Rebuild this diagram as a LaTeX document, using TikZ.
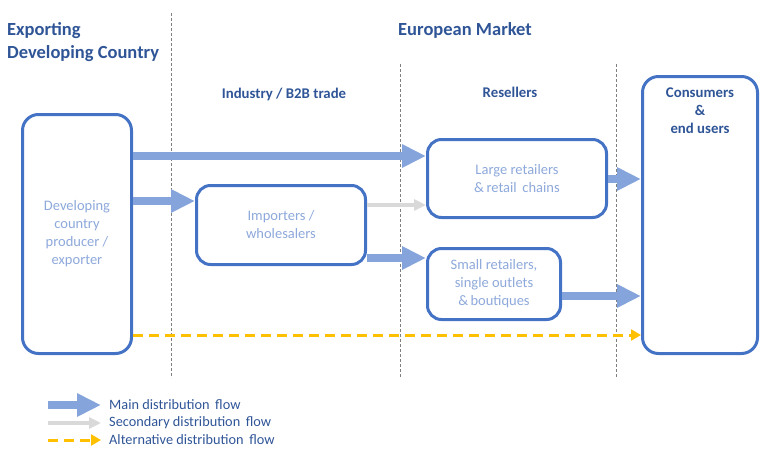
\documentclass[tikz,border=0pt]{standalone}
\usepackage{fontspec}
\setmainfont{Carlito}
\usetikzlibrary{arrows.meta}
\definecolor{boxblue}{HTML}{4472C4}
\definecolor{lighttext}{HTML}{8EA9DB}
\definecolor{darktext}{HTML}{2F5597}
\definecolor{mainflow}{HTML}{86A4DC}
\definecolor{secflow}{HTML}{D9D9D9}
\definecolor{altflow}{HTML}{FFC000}
\definecolor{sepgrey}{HTML}{7F7F7F}
\tikzset{
  box/.style={draw=boxblue, line width=3pt, rounded corners=14pt, fill=white,
    text=lighttext, align=center, font=\fontsize{14.5}{18}\selectfont},
  header/.style={text=darktext, font=\bfseries\fontsize{18.5}{23}\selectfont},
  subheader/.style={text=darktext, font=\bfseries\fontsize{14.8}{18}\selectfont, align=center},
  sep/.style={draw=sepgrey, line width=0.7pt, dash pattern=on 3pt off 2pt},
  mainarrow/.style={draw=mainflow, line width=8pt, -{Triangle[length=24pt,width=22pt]}},
  secarrow/.style={draw=secflow, line width=3.5pt, -{Triangle[length=12pt,width=11pt]}},
  altarrow/.style={draw=altflow, line width=3pt, dash pattern=on 10pt off 6pt, -{Triangle[length=10pt,width=11pt]}},
  legendtext/.style={text=darktext, anchor=west, font=\fontsize{14.3}{16}\selectfont}
}
\begin{document}
\begin{tikzpicture}[x=1pt,y=-1pt]
\useasboundingbox (0,0) rectangle (768,461);
% separators
\coordinate (s1t) at (171,13); \coordinate (s1b) at (171,378);
\coordinate (s2t) at (400,64); \coordinate (s2b) at (400,378);
\coordinate (s3t) at (616,64); \coordinate (s3b) at (616,378);
\draw[sep] (s1t) -- (s1b);
\draw[sep] (s2t) -- (s2b);
\draw[sep] (s3t) -- (s3b);
% headers
\node[header, anchor=west, align=left, inner xsep=0pt] (hexp) at (7,42) {Exporting\\Developing Country};
\node[header] (heu) at (465,30) {European Market};
\node[subheader] (hind) at (284,94) {Industry / B2B trade};
\node[subheader] (hres) at (510,92) {Resellers};
% boxes
\node[box, minimum width=109pt, minimum height=239pt, rounded corners=16pt] (prod) at (77,234) {Developing\\country\\producer /\\exporter};
\node[box, minimum width=169pt, minimum height=79pt] (imp) at (281,225) {Importers /\\wholesalers};
\node[box, minimum width=179pt, minimum height=78pt] (large) at (517,178.5) {Large retailers\\\&\,retail\, chains};
\node[box, minimum width=133pt, minimum height=71pt] (small) at (494,284) {Small retailers,\\single outlets\\\&\,boutiques};
\node[box, minimum width=115pt, minimum height=277pt, rounded corners=16pt] (cons) at (700,215) {};
\node[subheader] (constext) at (700,111) {Consumers\\\&\\end users};
% flows
\draw[mainarrow] (prod.east |- 0,156) -- (large.west |- 0,156);
\draw[mainarrow] (prod.east |- 0,201) -- (imp.west |- 0,201);
\draw[secarrow] (imp.east |- 0,205) -- (large.west |- 0,205);
\draw[mainarrow] (imp.east |- 0,258) -- (small.west |- 0,258);
\draw[mainarrow] (large.east |- 0,179) -- (cons.west |- 0,179);
\draw[mainarrow] (small.east |- 0,296) -- (cons.west |- 0,296);
\draw[altarrow] (prod.east |- 0,335) -- (cons.west |- 0,335);
% legend
\coordinate (l1a) at (48,405); \coordinate (l1b) at (101,405);
\coordinate (l2a) at (48,423); \coordinate (l2b) at (101,423);
\coordinate (l3a) at (48,440); \coordinate (l3b) at (101,440);
\draw[mainarrow] (l1a) -- (l1b);
\draw[secarrow] (l2a) -- (l2b);
\draw[altarrow] (l3a) -- (l3b);
\node[legendtext, inner xsep=0pt] (t1) at (109,405) {Main distribution\, flow};
\node[legendtext, inner xsep=0pt] (t2) at (109,423) {Secondary distribution\, flow};
\node[legendtext, inner xsep=0pt] (t3) at (109,440) {Alternative distribution\, flow};
\end{tikzpicture}
\end{document}
